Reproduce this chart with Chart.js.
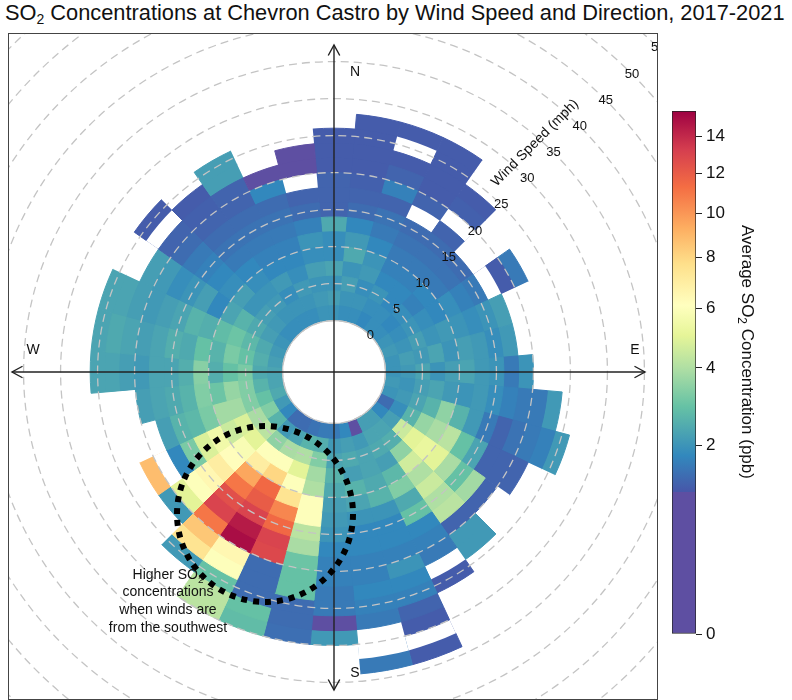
<!DOCTYPE html>
<html>
<head>
<meta charset="utf-8">
<script src="https://cdn.jsdelivr.net/npm/chart.js@4.4.1/dist/chart.umd.min.js"></script>
<style>
  html, body { margin: 0; padding: 0; background: #fff; }
  body { width: 792px; height: 700px; position: relative; overflow: hidden;
         font-family: "Liberation Sans", Arial, sans-serif; }
  #title { position: absolute; left: 5px; top: 0px; font-size: 21.8px; white-space: nowrap; color: #111; }
  #title sub { font-size: 14px; vertical-align: -4px; line-height: 0; }
  #frame { position: absolute; left: 8px; top: 33px; width: 650px; height: 667px;
           border: 1px solid #444; box-sizing: border-box; overflow: hidden; }
  #polar { position: absolute; left: -175px; top: -162px; width: 1000px; height: 1000px; }
  #key { position: absolute; left: 660px; top: 95px; width: 132px; height: 560px; }
</style>
</head>
<body>
<div id="title">SO<sub>2</sub> Concentrations at Chevron Castro by Wind Speed and Direction, 2017-2021</div>
<div id="frame"><canvas id="polar" width="1000" height="1000"></canvas></div>
<canvas id="key" width="132" height="560"></canvas>
<script>
// Wind direction sectors (degrees, centre of each 10° sector)
const directions = [0, 10, 20, 30, 40, 50, 60, 70, 80, 90, 100, 110, 120, 130, 140, 150, 160, 170,
                    180, 190, 200, 210, 220, 230, 240, 250, 260, 270, 280, 290, 300, 310, 320, 330, 340, 350];
// Wind speed bin edges (mph)
const speedBinEdges = [0, 2, 4, 6, 8, 10, 12, 14, 16, 18, 20, 22, 24, 26, 28, 30, 32, 34];
// Speed ring labels and colour-key ticks
const ringTicks = [0, 5, 10, 15, 20, 25, 30, 35, 40, 45, 50, 55];
const keyTicks = [0, 2, 4, 6, 8, 10, 12, 14];

// Average SO2 (ppb) per sector, listed from the lowest speed bin outward; null = no data
const so2_000 = [2.0, 2.2, 2.0, 2.3, 1.9, 1.9, 2.4, 1.3, 1.3, 1.3, 1.2, 1.2, 1.2];
const so2_010 = [1.9, 2.0, 2.2, 2.0, 2.4, 2.1, 1.8, 1.4, 1.3, 1.25, 1.2, 1.2, 1.2, 1.2];
const so2_020 = [1.9, 2.0, 1.9, 2.1, 2.0, 1.8, 1.6, 1.5, 1.3, 1.7, 1.3, 1.2, null, 1.2];
const so2_030 = [1.8, 1.9, 2.0, 1.8, 1.7, 1.6, 1.5, 1.4, null, 1.3, 1.2, 1.2, 1.2, 1.2];
const so2_040 = [1.9, 1.9, 1.8, 1.8, 1.7, 1.6, 1.5, 1.4, 1.3, null, 1.25, 1.2];
const so2_050 = [1.9, 1.8, 1.9, 1.7, 1.8, 1.6, 1.5, 1.4];
const so2_060 = [2.0, 1.9, 2.0, 1.9, 1.8, 1.9, 1.7, 1.6, null, 1.2, 1.6];
const so2_070 = [2.1, 2.0, 2.2, 2.0, 2.1, 2.0, 1.9, 2.0, 2.2];
const so2_080 = [2.0, 2.2, 2.1, 2.3, 2.0, 2.2, 2.1, 1.9, 2.1];
const so2_090 = [2.0, 2.1, 2.3, 2.0, 2.2, 2.3, 2.1, 2.0, 1.6, 2.0];
const so2_100 = [2.1, 2.0, 2.2, 2.3, 2.1, 2.0, 2.1, 1.9, 1.7, 1.6, 1.6, 2.1];
const so2_110 = [2.0, 2.1, 2.3, 2.6, 3.5, 2.6, 2.1, 1.6, 1.3, 1.5, 1.6, 1.7, 2.1];
const so2_120 = [1.4, 1.9, 2.6, 3.6, 3.9, 4.2, 2.9, 2.3, 1.3, 1.3, 1.3];
const so2_130 = [1.8, 2.2, 4.5, 5.0, 5.2, 5.0, 3.9, 2.9, 3.8, 1.3];
const so2_140 = [2.2, 2.3, 2.5, 3.5, 4.6, 4.0, 4.5, 4.0, 4.2, 1.3, 2.1, 2.1];
const so2_150 = [2.2, 2.3, 2.4, 2.2, 2.7, 3.3, 2.4, 2.9, 1.8, 1.7, 1.6, null, 1.2];
const so2_160 = [0.9, 2.1, 2.3, 2.3, 2.4, 2.6, 2.0, 1.8, 1.8, 1.7, 2.0, 1.8, 1.7, 1.3, 1.2, null, 1.2];
const so2_170 = [1.8, 2.2, 2.4, 2.2, 2.6, 2.3, 2.0, 1.8, 1.8, 1.7, 1.7, 1.8, 1.7, 1.6, null, null, 1.6];
const so2_180 = [1.6, 2.1, 2.3, 2.6, 2.4, 2.2, 2.1, 2.0, 1.8, 1.7, 1.7, 1.6, 1.6, 0.9, 2.1];
const so2_190 = [1.6, 2.5, 3.3, 3.8, 4.0, 6.0, 6.0, 4.2, 3.9, 3.0, 2.9, 2.9, 1.4, 1.4, 1.45];
const so2_200 = [1.5, 2.6, 4.0, 5.0, 6.0, 7.5, 10.5, 11.5, 13.0, 12.8, 1.4, 1.4, 1.4, 2.9, 2.8];
const so2_210 = [1.4, 2.3, 3.9, 6.0, 8.0, 11.5, 12.0, 13.0, 14.5, 15.0, 6.5, 6.0, 2.9, 4.2, 4.2];
const so2_220 = [1.4, 2.1, 3.5, 6.0, 7.0, 9.5, 11.0, 12.5, 13.0, 11.0, 8.5, 7.5, 2.1];
const so2_230 = [1.8, 2.6, 4.2, 5.0, 5.8, 6.2, 7.0, 6.5, 6.0, 5.0, 2.1];
const so2_240 = [2.1, 3.3, 3.9, 4.8, 4.5, 5.5, 4.8, 3.2, 1.8, null, 8.8];
const so2_250 = [2.4, 2.9, 3.3, 3.8, 3.8, 3.2, 2.7, 2.6, 2.2];
const so2_260 = [2.3, 2.6, 3.3, 3.6, 3.0, 3.3, 2.6, 2.4, 2.3, 2.2];
const so2_270 = [2.3, 2.4, 3.2, 2.9, 2.5, 3.4, 2.5, 2.3, 2.3, 2.1, 2.2, 2.3, 2.3];
const so2_280 = [2.2, 2.5, 2.9, 3.2, 2.6, 2.9, 2.4, 2.5, 2.3, 2.2, 2.3, 2.4, 2.3];
const so2_290 = [2.1, 2.4, 2.7, 3.0, 2.8, 2.5, 2.6, 2.3, 2.2, 2.1, 2.2, 2.3, 2.3];
const so2_300 = [2.0, 2.2, 2.4, 2.6, 2.3, 1.8, 2.2, 2.0, 1.9, 2.1, 2.2];
const so2_310 = [1.9, 2.1, 2.2, 2.0, 2.2, 1.9, 1.8, 1.7, 1.6, 1.4, 1.3, null, 1.2];
const so2_320 = [1.9, 2.0, 2.1, 2.0, 1.9, 1.8, 1.6, 1.5, 1.4, 1.3, 1.25, 1.2];
const so2_330 = [1.9, 2.0, 1.9, 2.1, 1.8, 1.7, 1.6, 1.5, 1.4, 1.3, 1.3, 2.2, 2.2];
const so2_340 = [1.9, 2.0, 2.1, 1.9, 1.8, 1.7, 1.6, 1.5, 1.4, 1.8, 0.9];
const so2_350 = [2.0, 2.1, 2.0, 2.2, 1.9, 2.0, 1.7, 1.4, 1.3, null, 0.9, 0.9];

const sectorRows = [so2_000, so2_010, so2_020, so2_030, so2_040, so2_050, so2_060, so2_070, so2_080,
  so2_090, so2_100, so2_110, so2_120, so2_130, so2_140, so2_150, so2_160, so2_170, so2_180, so2_190,
  so2_200, so2_210, so2_220, so2_230, so2_240, so2_250, so2_260, so2_270, so2_280, so2_290, so2_300,
  so2_310, so2_320, so2_330, so2_340, so2_350];

// Colour key: stops placed on a square-root concentration axis
const keyTop = 3.93;
const colourStops = [
  [0, '#5E4FA2'], [1.07, '#5E4FA2'], [1.07, '#4757A9'], [1.34, '#3288BD'], [1.71, '#66C2A5'],
  [1.98, '#ABDDA4'], [2.245, '#E6F598'], [2.47, '#FFFFBF'], [2.78, '#FEE08B'], [3.05, '#FDAE61'],
  [3.36, '#F46D43'], [3.64, '#D53E4F'], [3.93, '#9E0142']
];
function hexToRgb(h) {
  const n = parseInt(h.slice(1), 16);
  return [(n >> 16) & 255, (n >> 8) & 255, n & 255];
}
function so2Colour(c) {
  const s = Math.min(Math.sqrt(Math.max(c, 0)), keyTop);
  for (let i = colourStops.length - 1; i > 0; i--) {
    const [s0, c0] = colourStops[i - 1];
    const [s1, c1] = colourStops[i];
    if (s >= s0 && s <= s1) {
      const t = s1 === s0 ? 1 : (s - s0) / (s1 - s0);
      const a = hexToRgb(c0), b = hexToRgb(c1);
      const m = a.map((v, j) => Math.round(v + (b[j] - v) * t));
      return `rgb(${m[0]},${m[1]},${m[2]})`;
    }
  }
  return colourStops[0][1];
}

const FONT = '"Liberation Sans", Arial, sans-serif';
Chart.defaults.font.family = FONT;
Chart.defaults.color = '#111';

// One polar-area dataset per speed bin: each arc reaches the bin's upper edge,
// inner bins are drawn over outer ones so every cell shows as an annular sector.
const nBins = speedBinEdges.length - 1;
const datasets = [];
for (let k = 0; k < nBins; k++) {
  const vals = sectorRows.map(row => (row[k] === undefined ? null : row[k]));
  const fills = vals.map(v => (v === null ? '#ffffff' : so2Colour(v)));
  datasets.push({
    label: speedBinEdges[k] + '-' + speedBinEdges[k + 1] + ' mph',
    data: vals.map(() => speedBinEdges[k + 1]),
    backgroundColor: fills,
    borderColor: fills,
    borderWidth: vals.map(v => (v === null ? 0 : 1))
  });
}

// Draw a mixed line "base" + subscript, centred on (x, y)
function subText(ctx, parts, x, y, size) {
  const widths = parts.map(([t, sub]) => {
    ctx.font = (sub ? size * 0.7 : size) + 'px ' + FONT;
    return ctx.measureText(t).width;
  });
  let cur = x - widths.reduce((a, b) => a + b, 0) / 2;
  ctx.textAlign = 'left';
  parts.forEach(([t, sub], i) => {
    ctx.font = (sub ? size * 0.7 : size) + 'px ' + FONT;
    ctx.fillText(t, cur, sub ? y + size * 0.35 : y);
    cur += widths[i];
  });
}

const calmCircle = {
  id: 'calmCircle',
  afterDatasetsDraw(chart) {
    const r = chart.scales.r;
    const ctx = chart.ctx;
    ctx.save();
    ctx.beginPath();
    ctx.arc(r.xCenter, r.yCenter, r.getDistanceFromCenterForValue(0), 0, Math.PI * 2);
    ctx.fillStyle = '#ffffff';
    ctx.fill();
    ctx.strokeStyle = '#c8c8c8';
    ctx.lineWidth = 1.2;
    ctx.stroke();
    ctx.restore();
  }
};

const overlay = {
  id: 'overlay',
  afterDraw(chart) {
    const r = chart.scales.r;
    const ctx = chart.ctx;
    const cx = r.xCenter, cy = r.yCenter;
    const rad = v => r.getDistanceFromCenterForValue(v);
    ctx.save();

    // compass axes with open arrow heads
    ctx.strokeStyle = '#222';
    ctx.lineWidth = 1.4;
    const arrow = (x1, y1, x2, y2) => {
      const a = Math.atan2(y2 - y1, x2 - x1);
      ctx.beginPath();
      ctx.moveTo(x1, y1); ctx.lineTo(x2, y2);
      ctx.stroke();
      ctx.beginPath();
      ctx.moveTo(x2 - 12 * Math.cos(a - 0.5), y2 - 12 * Math.sin(a - 0.5));
      ctx.lineTo(x2, y2);
      ctx.lineTo(x2 - 12 * Math.cos(a + 0.5), y2 - 12 * Math.sin(a + 0.5));
      ctx.stroke();
    };
    arrow(cx, cy, cx, cy - 327);
    arrow(cx, cy, cx, cy + 318);
    arrow(cx, cy, cx - 322, cy);
    arrow(cx, cy, cx + 311, cy);

    ctx.fillStyle = '#111';
    ctx.textAlign = 'center';
    ctx.textBaseline = 'middle';
    ctx.font = '14px ' + FONT;
    ctx.fillText('N', cx + 21, cy - 300);
    ctx.fillText('S', cx + 21, cy + 301);
    ctx.fillText('W', cx - 301, cy - 22);
    ctx.fillText('E', cx + 301, cy - 22);

    // speed ring labels along the 45° line
    ctx.font = '13px ' + FONT;
    ringTicks.forEach(v => {
      const d = rad(v);
      ctx.fillText(String(v), cx + d * Math.SQRT1_2, cy - d * Math.SQRT1_2);
    });
    ctx.save();
    ctx.translate(cx + 201, cy - 229);
    ctx.rotate(-Math.PI / 4);
    ctx.font = '14px ' + FONT;
    ctx.fillText('Wind Speed (mph)', 0, 0);
    ctx.restore();

    // annotation: dotted ring around the south-west hot spot
    ctx.beginPath();
    ctx.setLineDash([6, 6]);
    ctx.lineWidth = 6;
    ctx.strokeStyle = '#000';
    ctx.arc(cx - 69, cy + 142, 88, 0, Math.PI * 2);
    ctx.stroke();
    ctx.setLineDash([]);

    const tx = cx - 166;
    subText(ctx, [['Higher SO', false], ['2', true]], tx, cy + 203, 14);
    ctx.font = '14px ' + FONT;
    ctx.textAlign = 'center';
    ctx.fillText('concentrations', tx, cy + 220);
    ctx.fillText('when winds are', tx, cy + 238);
    ctx.fillText('from the southwest', tx, cy + 256);
    ctx.restore();
  }
};

new Chart(document.getElementById('polar'), {
  type: 'polarArea',
  data: { labels: directions.map(d => d + '°'), datasets },
  options: {
    responsive: false,
    animation: false,
    events: [],
    layout: { padding: 0 },
    plugins: { legend: { display: false }, tooltip: { enabled: false } },
    scales: {
      r: {
        min: -6.95,
        max: 60.62,
        startAngle: -5,
        afterBuildTicks: s => { s.ticks = ringTicks.map(v => ({ value: v })); },
        ticks: { display: false },
        pointLabels: { display: false },
        angleLines: { display: false },
        grid: { circular: true, color: '#c4c4c4', lineWidth: 1.3, z: 1 },
        border: { dash: [8, 5] }
      }
    }
  },
  plugins: [calmCircle, overlay]
});

// Rotated key title with a subscript
const keyTitle = {
  id: 'keyTitle',
  afterDraw(chart) {
    const ctx = chart.ctx;
    ctx.save();
    ctx.translate(87, 257);
    ctx.rotate(Math.PI / 2);
    ctx.fillStyle = '#111';
    ctx.textBaseline = 'middle';
    subText(ctx, [['Average SO', false], ['2', true], [' Concentration (ppb)', false]], 0, 0, 17);
    ctx.restore();
  }
};

// Colour key drawn as one floating bar filled with the key gradient
new Chart(document.getElementById('key'), {
  type: 'bar',
  data: {
    labels: [''],
    datasets: [{
      data: [[0, keyTop]],
      backgroundColor(ctx) {
        const { chart } = ctx;
        if (!chart.chartArea) return '#ffffff';
        const y = chart.scales.y;
        const g = chart.ctx.createLinearGradient(0, y.getPixelForValue(0), 0, y.getPixelForValue(keyTop));
        colourStops.forEach(([s, c]) => g.addColorStop(Math.min(1, s / keyTop), c));
        return g;
      },
      borderColor: '#222',
      borderWidth: 1,
      borderSkipped: false,
      barPercentage: 1,
      categoryPercentage: 1
    }]
  },
  options: {
    responsive: false,
    animation: false,
    events: [],
    layout: { padding: { left: 12, top: 16, bottom: 21, right: 31 } },
    plugins: { legend: { display: false }, tooltip: { enabled: false } },
    scales: {
      x: { display: false },
      y: {
        position: 'right',
        min: 0,
        max: keyTop,
        afterBuildTicks: s => { s.ticks = keyTicks.map(v => ({ value: Math.sqrt(v) })); },
        afterFit: s => { s.width = 65; },
        grid: { drawOnChartArea: false, drawTicks: true, tickLength: 6, color: '#222' },
        border: { display: false },
        ticks: { callback: v => String(Math.round(v * v)), font: { size: 17 }, color: '#111', padding: 4 },
        title: { display: false }
      }
    }
  },
  plugins: [keyTitle]
});
</script>
</body>
</html>
